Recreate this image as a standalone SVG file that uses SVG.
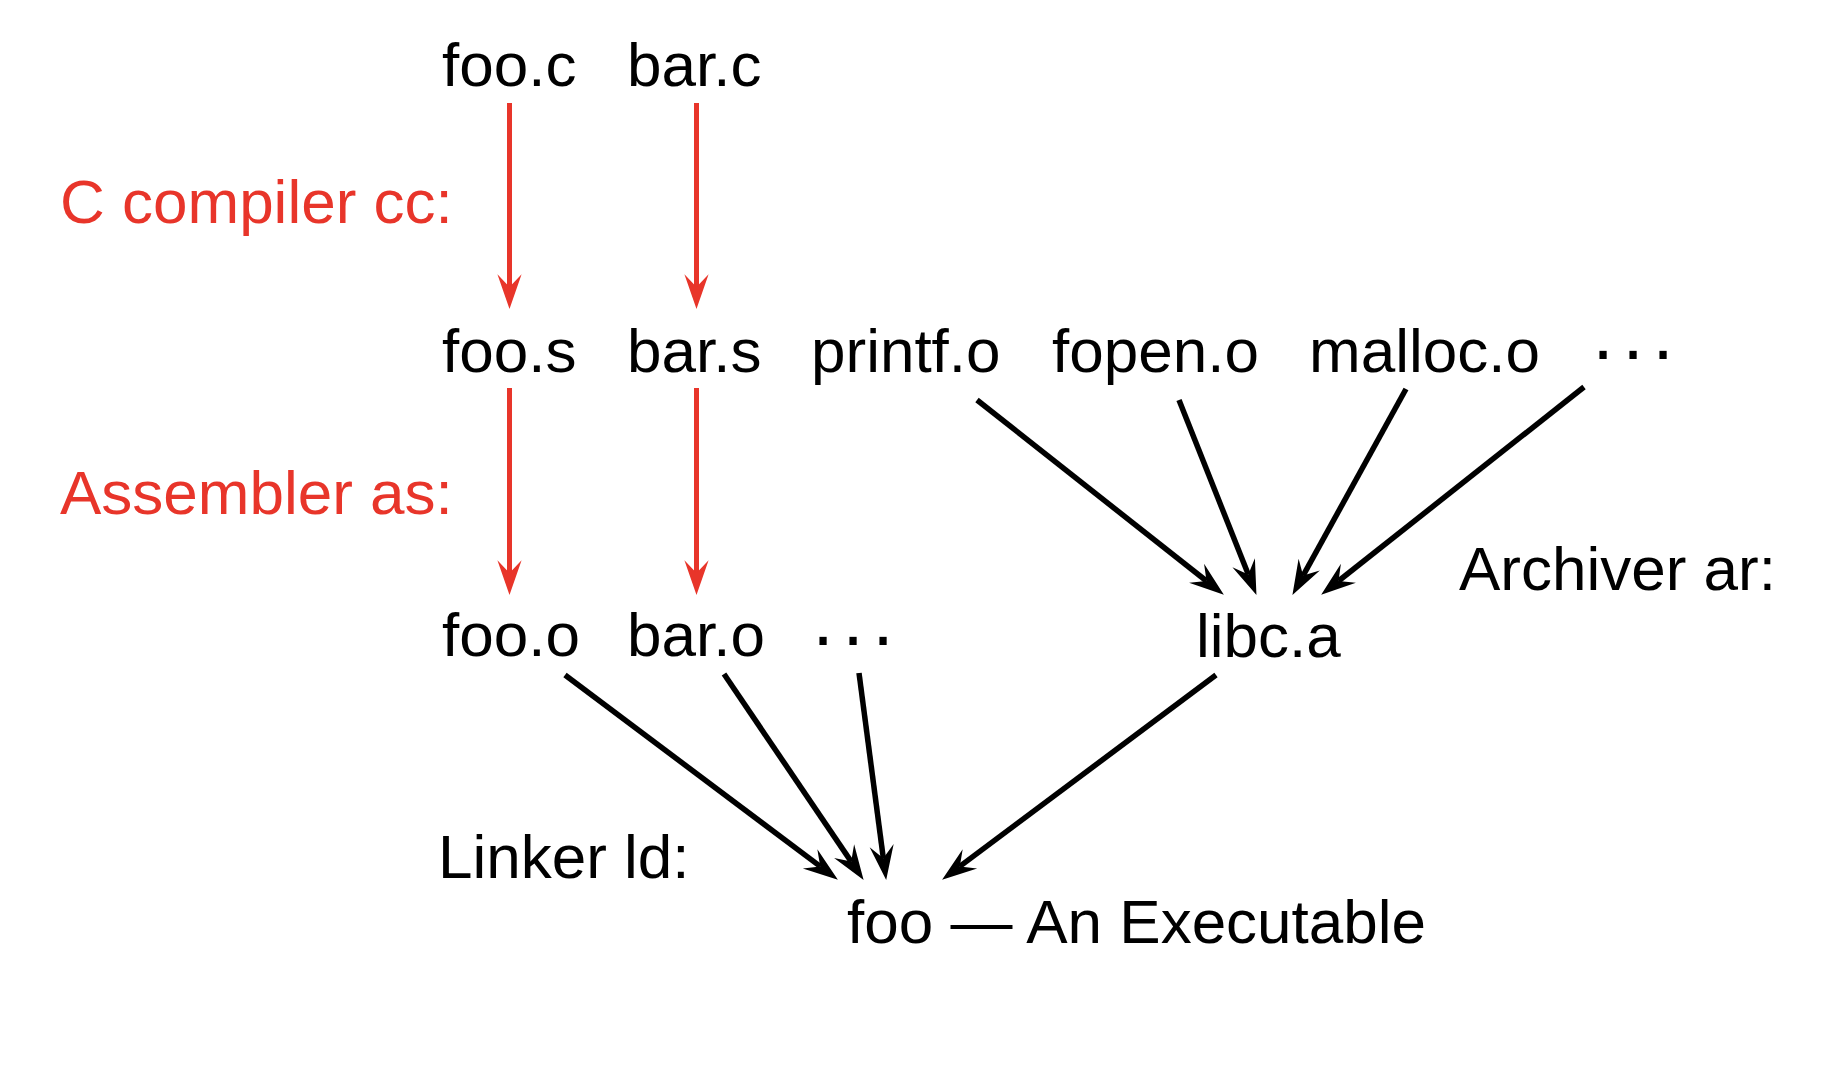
<svg xmlns="http://www.w3.org/2000/svg" width="1842" height="1076" viewBox="0 0 1842 1076">
<style>
text{font-family:"Liberation Sans",Arial,sans-serif;font-size:62px;fill:#000}
text.red{fill:#e8352a}
text.dots{font-size:76px}
.cr{stroke:#e8352a;stroke-width:5;fill:none}
.cb{stroke:#000;stroke-width:5.5;fill:none}
</style>
<defs>
<marker id="ar" markerUnits="userSpaceOnUse" markerWidth="40" markerHeight="30" refX="0" refY="0" viewBox="-14 -13 38 26" orient="auto" overflow="visible">
<path d="M21,0 L-12,-11.5 L0,0 L-12,11.5 Z" fill="#e8352a"/>
</marker>
<marker id="ab" markerUnits="userSpaceOnUse" markerWidth="40" markerHeight="30" refX="0" refY="0" viewBox="-14 -13 38 26" orient="auto" overflow="visible">
<path d="M21,0 L-12,-11.5 L0,0 L-12,11.5 Z" fill="#000"/>
</marker>
</defs>
<rect width="1842" height="1076" fill="#fff"/>
<g id="label-cc"><text class="red" x="60" y="223">C compiler cc:</text></g>
<g id="label-as"><text class="red" x="60" y="514">Assembler as:</text></g>
<g id="label-ar"><text x="1459" y="590">Archiver ar:</text></g>
<g id="label-ld"><text x="438" y="878">Linker ld:</text></g>
<g id="foo-c"><text x="442" y="86">foo.c</text></g>
<g id="bar-c"><text x="627" y="86">bar.c</text></g>
<g id="foo-s"><text x="442" y="372">foo.s</text></g>
<g id="bar-s"><text x="627" y="372">bar.s</text></g>
<g id="printf-o"><text x="811" y="372">printf.o</text></g>
<g id="fopen-o"><text x="1052" y="372">fopen.o</text></g>
<g id="malloc-o"><text x="1309" y="372">malloc.o</text></g>
<g id="more-lib"><text class="dots" x="1592.6 1622.6 1652.6" y="359">...</text></g>
<g id="foo-o"><text x="442" y="656">foo.o</text></g>
<g id="bar-o"><text x="627" y="656">bar.o</text></g>
<g id="more-obj"><text class="dots" x="812.6 842.6 872.6" y="645">...</text></g>
<g id="libc-a"><text x="1196" y="657">libc.a</text></g>
<g id="foo-exe"><text x="847" y="943">foo — An Executable</text></g>
<g id="connectors">
<line class="cr" x1="509.5" y1="103" x2="509.5" y2="287" marker-end="url(#ar)"/>
<line class="cr" x1="696.5" y1="103" x2="696.5" y2="287" marker-end="url(#ar)"/>
<line class="cr" x1="509.5" y1="388" x2="509.5" y2="573" marker-end="url(#ar)"/>
<line class="cr" x1="696.5" y1="388" x2="696.5" y2="573" marker-end="url(#ar)"/>
<line class="cb" x1="977" y1="400" x2="1206.5" y2="581" marker-end="url(#ab)"/>
<line class="cb" x1="1179" y1="400" x2="1248.3" y2="574.5" marker-end="url(#ab)"/>
<line class="cb" x1="1406" y1="389" x2="1303.1" y2="575.6" marker-end="url(#ab)"/>
<line class="cb" x1="1584" y1="387" x2="1338.5" y2="581" marker-end="url(#ab)"/>
<line class="cb" x1="565" y1="675" x2="820.2" y2="866.4" marker-end="url(#ab)"/>
<line class="cb" x1="724" y1="674" x2="851.2" y2="861.6" marker-end="url(#ab)"/>
<line class="cb" x1="859" y1="673" x2="883.3" y2="858.2" marker-end="url(#ab)"/>
<line class="cb" x1="1216" y1="675" x2="959.8" y2="866.4" marker-end="url(#ab)"/>
</g>
</svg>
